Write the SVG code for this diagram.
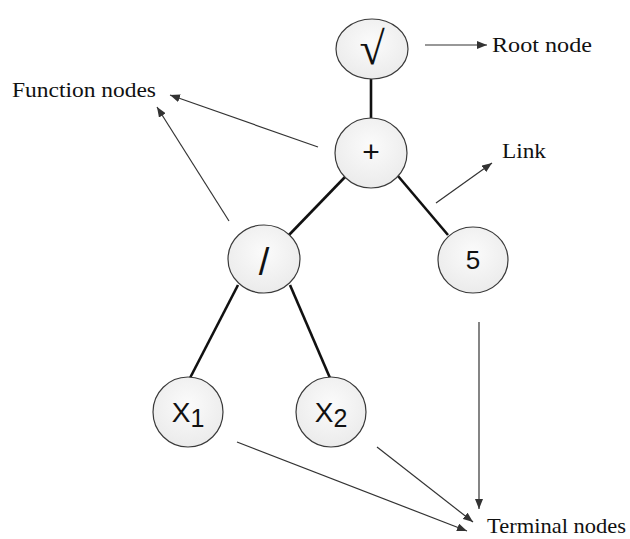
<svg xmlns="http://www.w3.org/2000/svg" width="630" height="539" viewBox="0 0 630 539">
<defs>
  <radialGradient id="nodeFill" cx="50%" cy="40%" r="60%">
    <stop offset="0" stop-color="#fbfbfb"/>
    <stop offset="1" stop-color="#ebebeb"/>
  </radialGradient>
  <marker id="arr" viewBox="0 0 10 8" refX="10" refY="4" markerWidth="10" markerHeight="8" markerUnits="userSpaceOnUse" orient="auto">
    <path d="M0,0 L10,4 L0,8 Z" fill="#333"/>
  </marker>
  <style>
    .node { fill: url(#nodeFill); stroke: #3a3a3a; stroke-width: 1.2; }
    .link { stroke: #111; stroke-width: 2.6; fill: none; }
    .ann { stroke: #333; stroke-width: 1.2; fill: none; marker-end: url(#arr); }
    .lbl { font-family: "Liberation Serif", "Times New Roman", serif; font-size: 21px; fill: #111; }
    .sym { font-family: "Liberation Sans", Arial, sans-serif; fill: #111; text-anchor: middle; }
    .rt { font-family: "Liberation Serif", "Times New Roman", serif; fill: #111; text-anchor: middle; }
  </style>
</defs>
<rect width="630" height="539" fill="#fff"/>
<g id="connectors">
  <line class="link" x1="371" y1="79" x2="371" y2="118"/>
  <line class="link" x1="345" y1="177" x2="288" y2="236"/>
  <line class="link" x1="398" y1="176" x2="448" y2="235"/>
  <line class="link" x1="238" y1="285" x2="190" y2="378"/>
  <line class="link" x1="290" y1="285" x2="330" y2="378"/>
  <line class="ann" x1="425" y1="45" x2="487" y2="45"/>
  <line class="ann" x1="318" y1="147" x2="170" y2="95"/>
  <line class="ann" x1="229" y1="221" x2="157" y2="107"/>
  <line class="ann" x1="436" y1="203" x2="492" y2="163"/>
  <line class="ann" x1="479" y1="322" x2="479" y2="509"/>
  <line class="ann" x1="237" y1="442" x2="467" y2="531"/>
  <line class="ann" x1="377" y1="447" x2="473" y2="522"/>
</g>
<g id="root">
  <ellipse class="node" cx="372" cy="49" rx="36" ry="30"/>
  <text class="rt" x="372" y="64" font-size="46">√</text>
</g>
<g id="plus">
  <ellipse class="node" cx="371" cy="153" rx="36" ry="35"/>
  <text class="sym" x="371" y="162" font-size="30">+</text>
</g>
<g id="div">
  <ellipse class="node" cx="264" cy="259" rx="36" ry="34"/>
  <text class="sym" x="264" y="275" font-size="38">/</text>
</g>
<g id="five">
  <ellipse class="node" cx="473" cy="260" rx="35" ry="33"/>
  <text class="sym" x="473" y="269" font-size="26">5</text>
</g>
<g id="x1">
  <ellipse class="node" cx="188" cy="412" rx="35" ry="35"/>
  <text class="sym" x="188" y="422" font-size="28">X<tspan font-size="25" dy="5">1</tspan></text>
</g>
<g id="x2">
  <ellipse class="node" cx="331" cy="412" rx="35" ry="35"/>
  <text class="sym" x="331" y="422" font-size="28">X<tspan font-size="25" dy="5">2</tspan></text>
</g>
<g id="labels">
  <text class="lbl" x="492" y="52" textLength="100" lengthAdjust="spacingAndGlyphs">Root node</text>
  <text class="lbl" x="12" y="97" textLength="144" lengthAdjust="spacingAndGlyphs">Function nodes</text>
  <text class="lbl" x="502" y="158" textLength="44" lengthAdjust="spacingAndGlyphs">Link</text>
  <text class="lbl" x="487" y="533" textLength="139" lengthAdjust="spacingAndGlyphs">Terminal nodes</text>
</g>
</svg>
